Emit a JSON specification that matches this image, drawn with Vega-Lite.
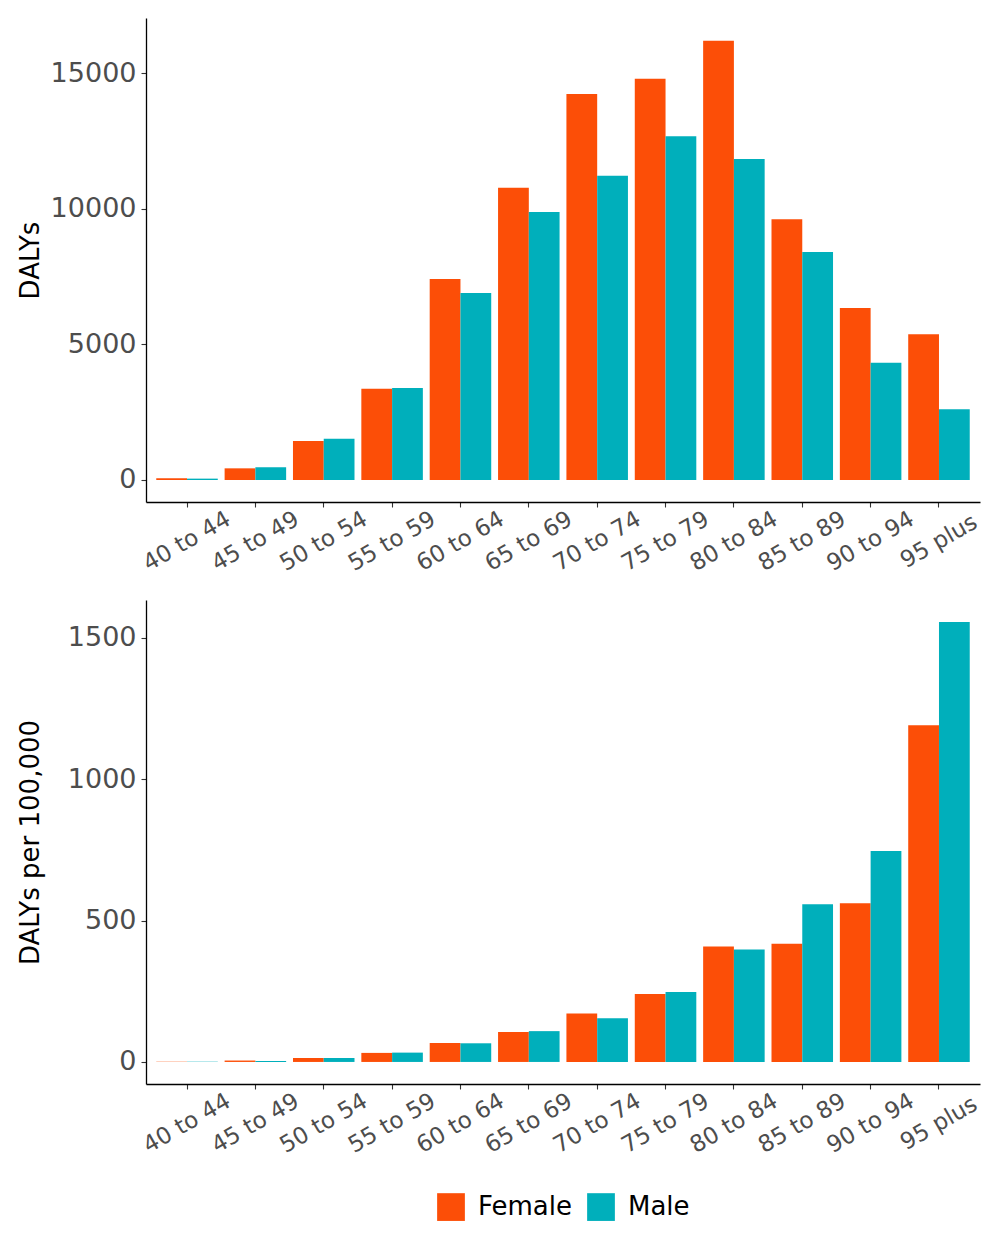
{
  "$schema": "https://vega.github.io/schema/vega-lite/v6.json",
  "data": {
    "values": [
      {"age": "40 to 44", "sex": "Female", "dalys": 60, "rate": 1},
      {"age": "40 to 44", "sex": "Male", "dalys": 50, "rate": 1},
      {"age": "45 to 49", "sex": "Female", "dalys": 430, "rate": 5},
      {"age": "45 to 49", "sex": "Male", "dalys": 470, "rate": 3},
      {"age": "50 to 54", "sex": "Female", "dalys": 1440, "rate": 14},
      {"age": "50 to 54", "sex": "Male", "dalys": 1525, "rate": 14},
      {"age": "55 to 59", "sex": "Female", "dalys": 3370, "rate": 32},
      {"age": "55 to 59", "sex": "Male", "dalys": 3395, "rate": 33},
      {"age": "60 to 64", "sex": "Female", "dalys": 7415, "rate": 67},
      {"age": "60 to 64", "sex": "Male", "dalys": 6900, "rate": 66},
      {"age": "65 to 69", "sex": "Female", "dalys": 10785, "rate": 106},
      {"age": "65 to 69", "sex": "Male", "dalys": 9890, "rate": 109},
      {"age": "70 to 74", "sex": "Female", "dalys": 14245, "rate": 171},
      {"age": "70 to 74", "sex": "Male", "dalys": 11230, "rate": 155},
      {"age": "75 to 79", "sex": "Female", "dalys": 14810, "rate": 240},
      {"age": "75 to 79", "sex": "Male", "dalys": 12680, "rate": 247},
      {"age": "80 to 84", "sex": "Female", "dalys": 16210, "rate": 408},
      {"age": "80 to 84", "sex": "Male", "dalys": 11845, "rate": 398},
      {"age": "85 to 89", "sex": "Female", "dalys": 9620, "rate": 418},
      {"age": "85 to 89", "sex": "Male", "dalys": 8415, "rate": 558},
      {"age": "90 to 94", "sex": "Female", "dalys": 6345, "rate": 561},
      {"age": "90 to 94", "sex": "Male", "dalys": 4330, "rate": 746},
      {"age": "95 plus", "sex": "Female", "dalys": 5375, "rate": 1191},
      {"age": "95 plus", "sex": "Male", "dalys": 2610, "rate": 1556}
    ]
  },
  "spacing": 24,
  "vconcat": [
    {
      "width": 834,
      "height": 484,
      "mark": "bar",
      "encoding": {
        "x": {
          "field": "age",
          "type": "nominal",
          "title": null,
          "scale": {"paddingInner": 0.1, "paddingOuter": 0.15}
        },
        "xOffset": {"field": "sex", "scale": {"paddingInner": 0, "paddingOuter": 0}},
        "y": {
          "field": "dalys",
          "type": "quantitative",
          "title": "DALYs",
          "scale": {"domain": [-812, 17047], "nice": false, "zero": false},
          "axis": {"values": [0, 5000, 10000, 15000]}
        },
        "y2": {"datum": 0},
        "color": {
          "field": "sex",
          "type": "nominal",
          "title": null,
          "scale": {"domain": ["Female", "Male"], "range": ["#FC4E07", "#00AFBB"]}
        }
      }
    },
    {
      "width": 834,
      "height": 484,
      "mark": "bar",
      "encoding": {
        "x": {
          "field": "age",
          "type": "nominal",
          "title": null,
          "scale": {"paddingInner": 0.1, "paddingOuter": 0.15}
        },
        "xOffset": {"field": "sex", "scale": {"paddingInner": 0, "paddingOuter": 0}},
        "y": {
          "field": "rate",
          "type": "quantitative",
          "title": "DALYs per 100,000",
          "scale": {"domain": [-78, 1634], "nice": false, "zero": false},
          "axis": {"values": [0, 500, 1000, 1500]}
        },
        "y2": {"datum": 0},
        "color": {
          "field": "sex",
          "type": "nominal",
          "title": null,
          "scale": {"domain": ["Female", "Male"], "range": ["#FC4E07", "#00AFBB"]},
          "legend": {
            "orient": "none",
            "legendX": 291,
            "legendY": 1175,
            "direction": "horizontal",
            "symbolType": "square",
            "symbolSize": 770,
            "symbolStrokeWidth": 0,
            "labelFontSize": 26,
            "labelColor": "black",
            "labelOffset": 13,
            "columnPadding": 14
          }
        }
      }
    }
  ],
  "padding": {"left": 17, "top": 18, "right": 19, "bottom": 10},
  "config": {
    "font": "DejaVu Sans",
    "view": {"stroke": null},
    "axis": {
      "grid": false,
      "domainColor": "black",
      "domainWidth": 1.3,
      "tickColor": "#333333",
      "tickSize": 5,
      "tickWidth": 1.1,
      "labelColor": "#4D4D4D",
      "titleColor": "black",
      "titleFontWeight": "normal",
      "titleFontSize": 26,
      "labelFontSize": 27,
      "labelFont": "DejaVu Sans",
      "titleFont": "DejaVu Sans"
    },
    "axisY": {
      "format": "d",
      "labelPadding": 5,
      "minExtent": 96,
      "maxExtent": 96,
      "titlePadding": 7
    },
    "axisX": {
      "labelAngle": -30,
      "labelAlign": "center",
      "labelBaseline": "middle",
      "labelPadding": 34,
      "labelFontSize": 23,
      "minExtent": 60,
      "maxExtent": 60
    },
    "legend": {"labelFont": "DejaVu Sans"}
  }
}
